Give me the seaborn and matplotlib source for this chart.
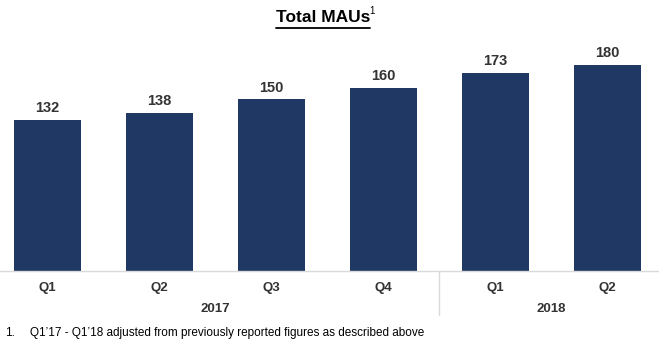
import matplotlib
matplotlib.use("Agg")
import matplotlib.pyplot as plt
import seaborn as sns
import pandas as pd

quarters = ["Q1", "Q2", "Q3", "Q4", "Q1", "Q2"]
years = ["2017", "2017", "2017", "2017", "2018", "2018"]
values = [132, 138, 150, 160, 173, 180]
year_labels = ["2017", "2018"]

sns.set_theme(style="white")
plt.rcParams['font.family'] = ['Liberation Sans', 'DejaVu Sans']

df = pd.DataFrame({"pos": [f"{y}-{q}" for y, q in zip(years, quarters)], "value": values})

fig = plt.figure(figsize=(6.59, 3.5), dpi=100)
ax = fig.add_axes([0.0, 0.2257, 1.0, 0.66])
sns.barplot(data=df, x="pos", y="value", color="#1F3864", width=0.6, ax=ax,
            saturation=1, edgecolor="none")
ax.set_xlim(-0.424, 5.46)
ax.set_ylim(0, 201.7)
for s in ["top", "right", "left"]:
    ax.spines[s].set_visible(False)
ax.spines["bottom"].set_color("#D9D9D9")
ax.spines["bottom"].set_linewidth(1.0)
ax.set_yticks([])
ax.set_xlabel("")
ax.set_ylabel("")
ax.set_xticks(range(len(quarters)))
ax.set_xticklabels(quarters, fontsize=9.5, fontweight="bold", color="#333333")
ax.tick_params(axis="x", length=0, pad=8)

for i, v in enumerate(values):
    ax.text(i, v + 4, str(v), ha="center", va="bottom", fontsize=10.5,
            fontweight="bold", color="#333333")

# year labels
trans = ax.get_xaxis_transform()
groups = {}
for i, y in enumerate(years):
    groups.setdefault(y, []).append(i)
for y in year_labels:
    idx = groups[y]
    c = (idx[0] + idx[-1]) / 2
    ax.text(c, -0.165, y, transform=trans, ha="center", va="center",
            fontsize=9.5, fontweight="bold", color="#333333")
# separator
ax.plot([3.5, 3.5], [0, -0.19], transform=trans, color="#D9D9D9", lw=1.0, clip_on=False)

# title
fig.text(0.49, 0.950, "Total MAUs", ha="center", va="center", fontsize=12.5,
         fontweight="bold", color="black")
fig.text(0.561, 0.970, "1", ha="left", va="center", fontsize=7, color="black")
fig.add_artist(plt.Line2D([0.419, 0.561], [0.921, 0.921], color="black", lw=1.3))

# footnote
fig.text(0.008, 0.048, "1.", ha="left", va="center", fontsize=8.5, color="black")
fig.text(0.046, 0.048, "Q1\u201917 - Q1\u201918 adjusted from previously reported figures as described above",
         ha="left", va="center", fontsize=8.5, color="black")

fig.savefig("out.png", dpi=100)
